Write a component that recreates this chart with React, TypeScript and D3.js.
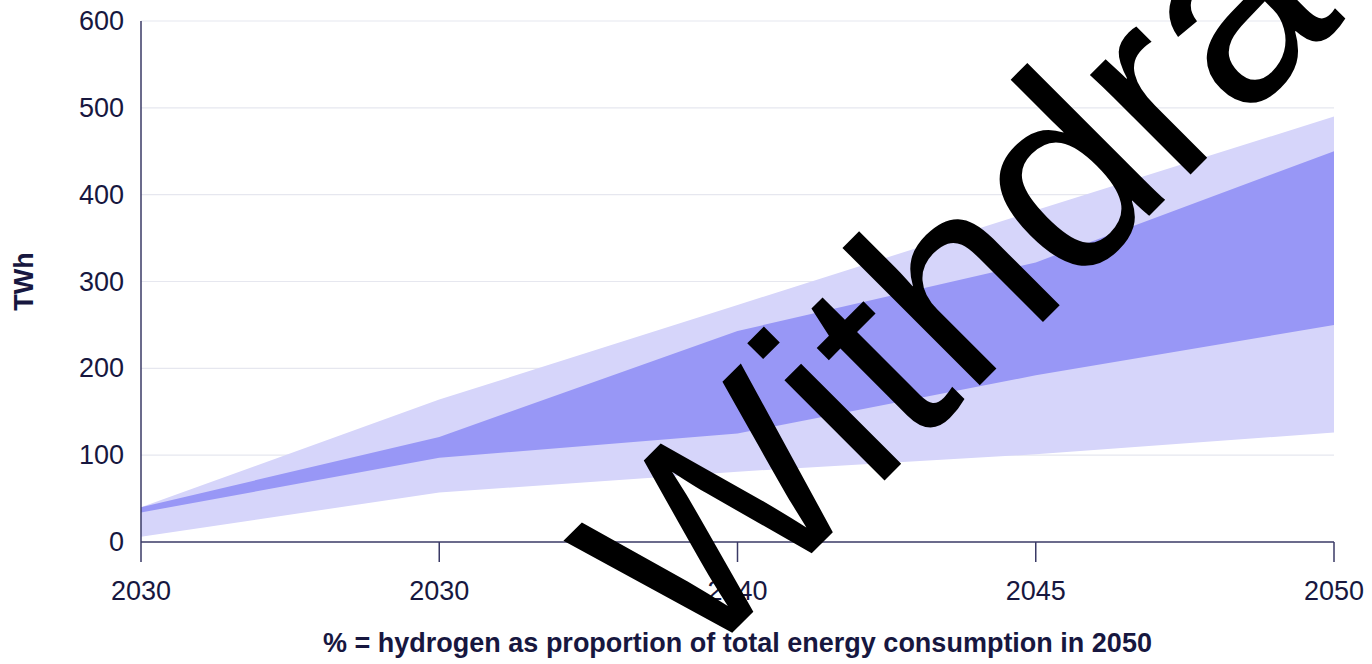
import React from "react";
import * as d3 from "d3";

const xLabels = ["2030", "2030", "2040", "2045", "2050"];
const yTicks = [0, 100, 200, 300, 400, 500, 600];
const lightUpper = [40, 164, 273, 382, 490];
const darkUpper = [40, 121, 243, 322, 450];
const darkLower = [34, 97, 125, 192, 250];
const lightLower = [6, 57, 81, 101, 126];

const W = 1372;
const H = 664;
const M = { left: 141, right: 1334, top: 21, bottom: 542 };
const TEXT = "#17173f";
const AXIS = "#3a3a66";
const GRID = "#e6e7ef";
const LIGHT = "#d6d5fa";
const DARK = "#9897f6";
const FONT = "'Liberation Sans', Arial, Helvetica, sans-serif";

export default function App() {
  const x = d3.scaleLinear().domain([0, xLabels.length - 1]).range([M.left, M.right]);
  const y = d3.scaleLinear().domain([0, 600]).range([M.bottom, M.top]);

  const band = (lo: number[], hi: number[]) =>
    d3
      .area<number>()
      .x((_, i) => x(i))
      .y0((_, i) => y(lo[i]))
      .y1((_, i) => y(hi[i]))(lo.map((_, i) => i)) || "";

  return (
    <svg
      width={W}
      height={H}
      style={{ position: "absolute", left: 0, top: 0, display: "block", background: "#fff" }}
      fontFamily={FONT}
    >
      {yTicks.filter((t) => t > 0).map((t) => (
        <line key={"g" + t} x1={M.left} x2={M.right} y1={y(t)} y2={y(t)} stroke={GRID} strokeWidth={1.2} />
      ))}
      <path d={band(lightLower, lightUpper)} fill={LIGHT} />
      <path d={band(darkLower, darkUpper)} fill={DARK} />

      {/* axes */}
      <line x1={M.left} x2={M.left} y1={M.top} y2={M.bottom} stroke={AXIS} strokeWidth={1.5} />
      <line x1={M.left} x2={M.right} y1={y(0)} y2={y(0)} stroke={AXIS} strokeWidth={1.5} />
      {xLabels.map((lab, i) => (
        <g key={"x" + i}>
          <line x1={x(i)} x2={x(i)} y1={y(0)} y2={y(0) + 20} stroke={AXIS} strokeWidth={1.5} />
          <text x={x(i)} y={591} textAnchor="middle" dominantBaseline="central" fontSize={27} fill={TEXT}>
            {lab}
          </text>
        </g>
      ))}
      {yTicks.map((t) => (
        <text key={"y" + t} x={124} y={y(t)} textAnchor="end" dominantBaseline="central" fontSize={27} fill={TEXT}>
          {t}
        </text>
      ))}
      <text
        transform={`translate(33, ${(M.top + M.bottom) / 2}) rotate(-90)`}
        textAnchor="middle"
        fontSize={27}
        fontWeight="bold"
        fill={TEXT}
      >
        TWh
      </text>
      <text x={(M.left + M.right) / 2} y={643} textAnchor="middle" dominantBaseline="central" fontSize={27} fontWeight="bold" fill={TEXT}>
        % = hydrogen as proportion of total energy consumption in 2050
      </text>

      {/* watermark */}
      <text transform="translate(693, 672) rotate(-45)" fontSize={268} fill="#000" fontFamily={FONT}>
        Withdrawn
      </text>
    </svg>
  );
}
